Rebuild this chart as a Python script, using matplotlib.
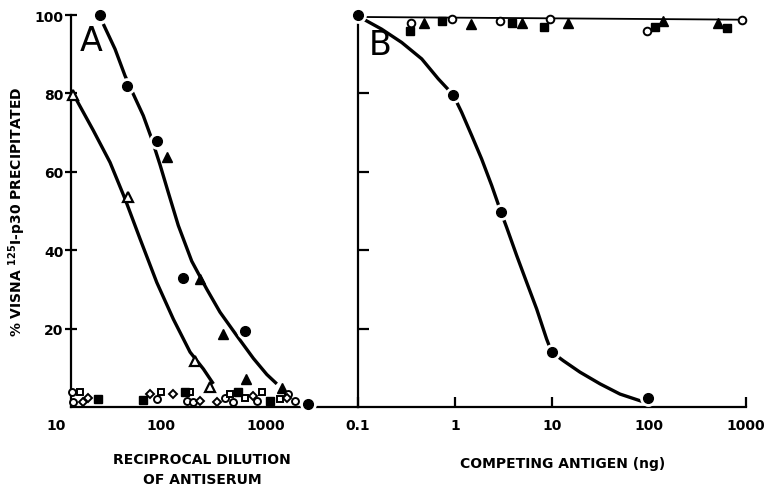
'''Radioimmunoassay curves: visna p30 precipitation (A) and competition (B).'''

import matplotlib
matplotlib.use('Agg')
import matplotlib.pyplot as plt
import matplotlib.ticker as ticker

plt.rcParams['font.family'] = ['DejaVu Sans']
plt.rcParams['mathtext.default'] = 'bf'

# ---- Panel A: reciprocal dilution of antiserum ----
a_circ_x = [26.2, 47.1, 91, 163, 631, 2530]
a_circ_y = [100, 81.8, 67.9, 32.8, 19.5, 0.8]
a_tri_x = [113, 235, 392, 645, 1410]
a_tri_y = [63.7, 32.7, 18.6, 7.1, 4.8]
a_otri_x = [14.6, 48.9, 211, 293]
a_otri_y = [79.6, 53.5, 11.8, 5.0]

# curves
a_curve1_x = [28.2, 36.5, 45.4, 54.5, 67.8, 81.5, 97.8, 117, 146, 196, 272, 364, 526, 757, 1016, 1265]
a_curve1_y = [97.7, 91.3, 84.5, 79.8, 74.3, 68.4, 61.8, 54.8, 46.3, 37.2, 30.1, 24.2, 18.2, 12.4, 8.3, 5.9]
a_curve2_x = [15.2, 22.6, 32.7, 45.4, 63.1, 91, 131, 189, 253, 315]
a_curve2_y = [79.0, 70.6, 62.4, 53.1, 42.9, 31.8, 22.4, 14.0, 9.7, 5.9]

# negative sera clustered at the baseline
a_ocirc_x = [14.2, 14.5, 91, 177, 202, 406, 483, 820, 1620, 1880]
a_ocirc_y = [3.8, 1.3, 2.0, 1.5, 1.3, 2.3, 1.3, 1.5, 3.3, 1.5]
a_osq_x = [16.9, 100, 189, 450, 630, 913, 1360]
a_osq_y = [3.8, 3.8, 3.8, 3.3, 2.3, 3.8, 2.0]
a_odia_x = [18, 20, 78, 130, 235, 340, 750, 1580]
a_odia_y = [1.3, 2.3, 3.3, 3.3, 1.5, 1.3, 2.8, 2.3]
a_fsq_x = [25, 67, 169, 540, 1090]
a_fsq_y = [2.0, 1.8, 3.8, 3.8, 1.5]

# ---- Panel B: competing antigen (ng) ----
b_circ_x = [0.1, 0.96, 2.98, 9.93, 98.5]
b_circ_y = [100, 79.6, 49.7, 14.0, 2.2]
b_curve_x = [0.1, 0.109, 0.175, 0.282, 0.454, 0.673, 0.96, 1.17, 1.49, 1.88, 2.39, 2.98,
             3.41, 4.33, 5.48, 6.95, 8.81, 9.93, 13.1, 19.4, 31.3, 50.2, 80.8, 94.6]
b_curve_y = [99.6, 99.2, 96.4, 93.0, 88.8, 83.7, 79.6, 75.2, 69.2, 63.3, 56.5, 49.7,
             45.8, 38.6, 31.8, 25.0, 17.3, 14.0, 11.8, 8.9, 5.9, 3.3, 1.6, 1.0]

b_flat_x = [0.1, 1000]
b_flat_y = [99.5, 98.8]
b_ocirc_x = [0.35, 0.94, 2.9, 9.5, 96, 910]
b_ocirc_y = [98, 99, 98.5, 99, 96, 98.7]
b_fsq_x = [0.34, 0.74, 3.9, 8.3, 115, 640]
b_fsq_y = [96, 98.5, 98, 97, 97, 96.7]
b_tri_x = [0.48, 1.47, 4.9, 14.6, 140, 520]
b_tri_y = [98, 97.7, 98, 98, 98.5, 98]

a_ticks = [10, 100, 1000]
b_ticks = [0.1, 1, 10, 100, 1000]
b_ticklabels = ['0.1', '1', '10', '100', '1000']
y_ticks = [20, 40, 60, 80, 100]

W, H = 767, 489
fig = plt.figure(figsize=(W / 100, H / 100), dpi=100)
axA = fig.add_axes([56 / W, 81 / H, 302 / W, 392 / H])
axB = fig.add_axes([358 / W, 81 / H, 388 / W, 392 / H])

lw_curve = 2.4
for ax in (axA, axB):
    ax.set_xscale('log')
    ax.set_ylim(0, 100)
    ax.spines['top'].set_visible(False)
    ax.spines['right'].set_visible(False)
    ax.spines['left'].set_linewidth(1.6)
    ax.spines['bottom'].set_linewidth(1.6)
    ax.xaxis.set_minor_locator(ticker.NullLocator())
    ax.patch.set_alpha(0)

# panel A
axA.set_xlim(10, 7500)
axA.spines['left'].set_position(('data', 13.9))
axA.spines['bottom'].set_bounds(13.9, 7500)
axA.plot(a_curve1_x, a_curve1_y, color='black', lw=lw_curve, zorder=2, solid_capstyle='butt')
axA.plot(a_curve2_x, a_curve2_y, color='black', lw=lw_curve, zorder=2, solid_capstyle='butt')
axA.plot(a_circ_x, a_circ_y, 'o', ms=11, color='white', zorder=3, clip_on=False)
axA.plot(a_circ_x, a_circ_y, 'o', ms=7, color='black', zorder=4, clip_on=False)
axA.plot(a_tri_x, a_tri_y, '^', ms=7.5, color='black', zorder=4, clip_on=False)
axA.plot(a_otri_x, a_otri_y, '^', ms=7.5, mfc='white', mec='black', mew=1.6, zorder=4, clip_on=False)
axA.plot(a_ocirc_x, a_ocirc_y, 'o', ms=5, mfc='white', mec='black', mew=1.4, zorder=5, clip_on=False)
axA.plot(a_osq_x, a_osq_y, 's', ms=5, mfc='white', mec='black', mew=1.4, zorder=5, clip_on=False)
axA.plot(a_odia_x, a_odia_y, 'D', ms=4.5, mfc='white', mec='black', mew=1.4, zorder=5, clip_on=False)
axA.plot(a_fsq_x, a_fsq_y, 's', ms=5.5, color='black', zorder=5, clip_on=False)

axA.set_xticks(a_ticks)
axA.xaxis.set_major_formatter(ticker.FixedFormatter(['10', '100', '1000']))
axA.tick_params(axis='x', length=0, pad=8, labelsize=10)
axA.set_yticks(y_ticks)
axA.tick_params(axis='y', direction='inout', length=9, width=1.6, pad=1, labelsize=10)
for lab in axA.get_xticklabels() + axA.get_yticklabels():
    lab.set_fontweight('bold')
axA.text(0.115, 0.935, 'A', transform=axA.transAxes, fontsize=24, ha='center', va='center')

# panel B
axB.set_xlim(0.1, 1000)
axB.plot(b_flat_x, b_flat_y, color='black', lw=1.3, zorder=2)
axB.plot(b_curve_x, b_curve_y, color='black', lw=lw_curve, zorder=2, solid_capstyle='butt')
axB.plot(b_circ_x, b_circ_y, 'o', ms=11, color='white', zorder=3, clip_on=False)
axB.plot(b_circ_x, b_circ_y, 'o', ms=7, color='black', zorder=4, clip_on=False)
axB.plot(b_fsq_x, b_fsq_y, 's', ms=5.5, color='black', zorder=4, clip_on=False)
axB.plot(b_tri_x, b_tri_y, '^', ms=6.5, color='black', zorder=4, clip_on=False)
axB.plot(b_ocirc_x, b_ocirc_y, 'o', ms=5.5, mfc='white', mec='black', mew=1.4, zorder=5, clip_on=False)

axB.set_xticks(b_ticks)
axB.xaxis.set_major_formatter(ticker.FixedFormatter(b_ticklabels))
axB.tick_params(axis='x', direction='in', length=7, width=1.6, pad=8, labelsize=10)
axB.set_yticks(y_ticks[:-1])
axB.tick_params(axis='y', direction='in', length=8, width=1.6, labelleft=False)
for lab in axB.get_xticklabels():
    lab.set_fontweight('bold')
axB.text(0.058, 0.925, 'B', transform=axB.transAxes, fontsize=24, ha='center', va='center')

# axis titles
fig.text(17 / W, 1 - 212 / H, r'% VISNA $^{125}$I-p30 PRECIPITATED', rotation=90,
         ha='center', va='center', fontsize=10, fontweight='bold')
fig.text(202 / W, 1 - 470 / H, 'RECIPROCAL DILUTION\nOF ANTISERUM', ha='center', va='center',
         fontsize=10, fontweight='bold', linespacing=1.6)
fig.text(563 / W, 1 - 464 / H, 'COMPETING ANTIGEN (ng)', ha='center', va='center',
         fontsize=10, fontweight='bold')

fig.savefig('out.png', dpi=100)
